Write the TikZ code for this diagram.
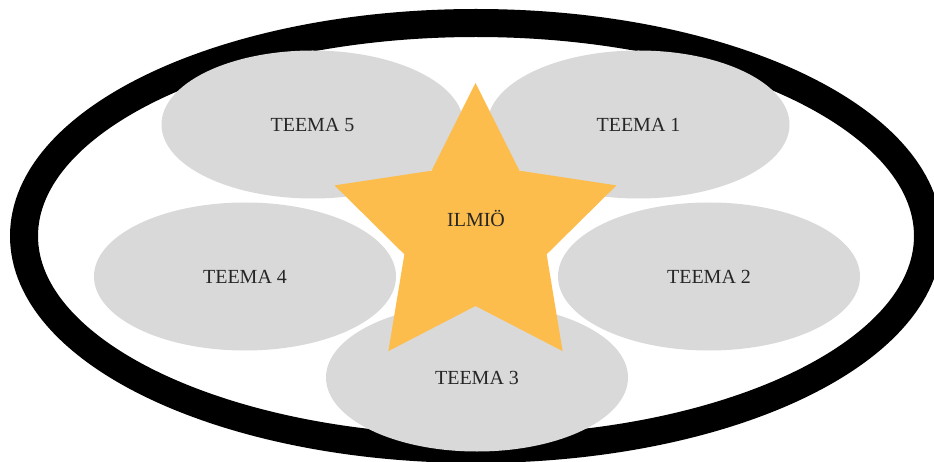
\documentclass[tikz,border=0pt]{standalone}
\usepackage{fontspec}
\setmainfont{Liberation Serif}
\usetikzlibrary{shapes.geometric}
\definecolor{themegray}{HTML}{D9D9D9}
\definecolor{starfill}{HTML}{FDBD4C}
\definecolor{labeltext}{HTML}{262626}
\tikzset{
  ring/.style={draw=black, line width=28pt},
  theme/.style={ellipse, fill=themegray, draw=none, minimum width=302pt, minimum height=148pt, inner sep=0pt, text=labeltext, font=\fontsize{20}{24}\selectfont},
  starlabel/.style={text=labeltext, font=\fontsize{20}{24}\selectfont, inner sep=0pt}
}
\begin{document}
\begin{tikzpicture}[x=1pt, y=-1pt]
  \useasboundingbox (0,0) rectangle (934,462);
  \fill[white] (0,0) rectangle (934,462);
  \clip (0,0) rectangle (934,462);
  % outer ring
  \draw[ring] (476,236) ellipse [x radius=452pt, y radius=213pt];
  % themes
  \node[theme] (t5) at (312.5,124.5) {TEEMA 5};
  \node[theme] (t1) at (638.5,124.5) {TEEMA 1};
  \node[theme] (t4) at (245,276.5) {TEEMA 4};
  \node[theme] (t2) at (709,276.5) {TEEMA 2};
  \node[theme] (t3) at (477,377.5) {TEEMA 3};
  % star
  \coordinate (sc) at (475.5,231.2);
  \begin{scope}[shift={(sc)}]
    \fill[starfill] (90:148.2pt) -- (126:74.8pt) -- (162:148.2pt) -- (198:74.8pt) -- (234:148.2pt) -- (270:74.8pt) -- (306:148.2pt) -- (342:74.8pt) -- (18:148.2pt) -- (54:74.8pt) -- cycle;
  \end{scope}
  \node[starlabel] (ilmio) at (476,218) {ILMIÖ};
\end{tikzpicture}
\end{document}
